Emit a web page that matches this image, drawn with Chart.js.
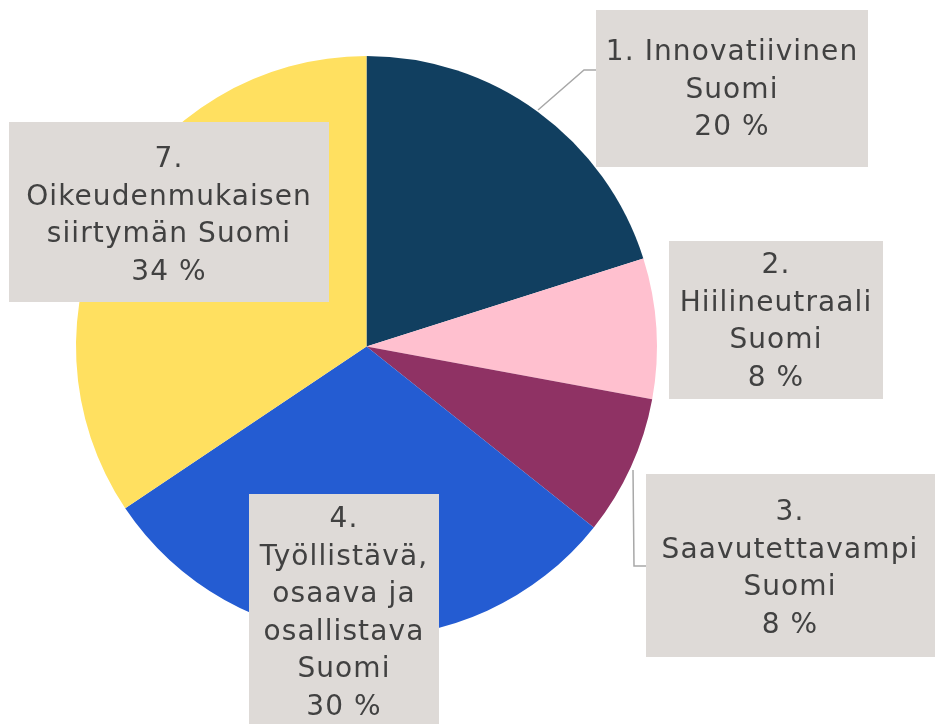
<!DOCTYPE html>
<html><head><meta charset="utf-8">
<script src="https://cdn.jsdelivr.net/npm/chart.js@4/dist/chart.umd.min.js"></script>
<style>html,body{margin:0;padding:0;background:#fff;}#wrap{width:935px;height:724px;position:relative;}</style>
</head><body><div id="wrap"><canvas id="c" width="935" height="724"></canvas></div>
<script>
const categories = [
  ["1. Innovatiivinen", "Suomi"],
  ["2.", "Hiilineutraali", "Suomi"],
  ["3.", "Saavutettavampi", "Suomi"],
  ["4.", "Työllistävä,", "osaava ja", "osallistava", "Suomi"],
  ["7.", "Oikeudenmukaisen", "siirtymän Suomi"]
];
const values = [20.1, 7.8, 7.8, 29.9, 34.4];
const percentLabels = ["20 %", "8 %", "8 %", "30 %", "34 %"];
const colors = ["#113F60", "#FFC0CF", "#8F3264", "#245CD2", "#FFE060"];

// label box layout (pixels): x, y, w, h, text center x, first line center y
const boxes = [
  {x:596, y:10, w:272, h:157, cx:732, ly:53},
  {x:669, y:241, w:214, h:158, cx:776, ly:266},
  {x:646, y:474, w:289, h:183, cx:790, ly:513},
  {x:249, y:494, w:190, h:230, cx:344, ly:520},
  {x:9, y:122, w:320, h:180, cx:169, ly:160}
];
const lineH = 37.5;
// leader lines
const leaders = [
  [[538,110],[584,70],[596,70]],
  null,
  [[633,470],[634,566],[646,566]],
  null, null
];

const labelPlugin = {
  id: 'boxLabels',
  afterDatasetsDraw(chart) {
    const ctx = chart.ctx;
    ctx.save();
    leaders.forEach(l => {
      if (!l) return;
      ctx.strokeStyle = '#A8A8A8';
      ctx.lineWidth = 1.5;
      ctx.beginPath();
      ctx.moveTo(l[0][0], l[0][1]);
      for (let i = 1; i < l.length; i++) ctx.lineTo(l[i][0], l[i][1]);
      ctx.stroke();
    });
    boxes.forEach((b, i) => {
      ctx.fillStyle = '#DEDAD7';
      ctx.fillRect(b.x, b.y, b.w, b.h);
      ctx.fillStyle = '#414141';
      ctx.font = '400 28px "DejaVu Sans", sans-serif';
      ctx.textAlign = 'center';
      ctx.textBaseline = 'middle';
      try { ctx.letterSpacing = '1.1px'; } catch(e) {}
      const lines = categories[i].concat([percentLabels[i]]);
      lines.forEach((t, j) => ctx.fillText(t, b.cx, b.ly + j * lineH));
    });
    ctx.restore();
  }
};

new Chart(document.getElementById('c'), {
  type: 'pie',
  data: {
    labels: categories.map(c => c.join(' ')),
    datasets: [{ data: values, backgroundColor: colors, borderWidth: 0 }]
  },
  options: {
    responsive: false,
    animation: false,
    layout: { padding: { left: 76, right: 278, top: 56, bottom: 87 } },
    plugins: { legend: { display: false }, tooltip: { enabled: false } }
  },
  plugins: [labelPlugin]
});
</script></body></html>
